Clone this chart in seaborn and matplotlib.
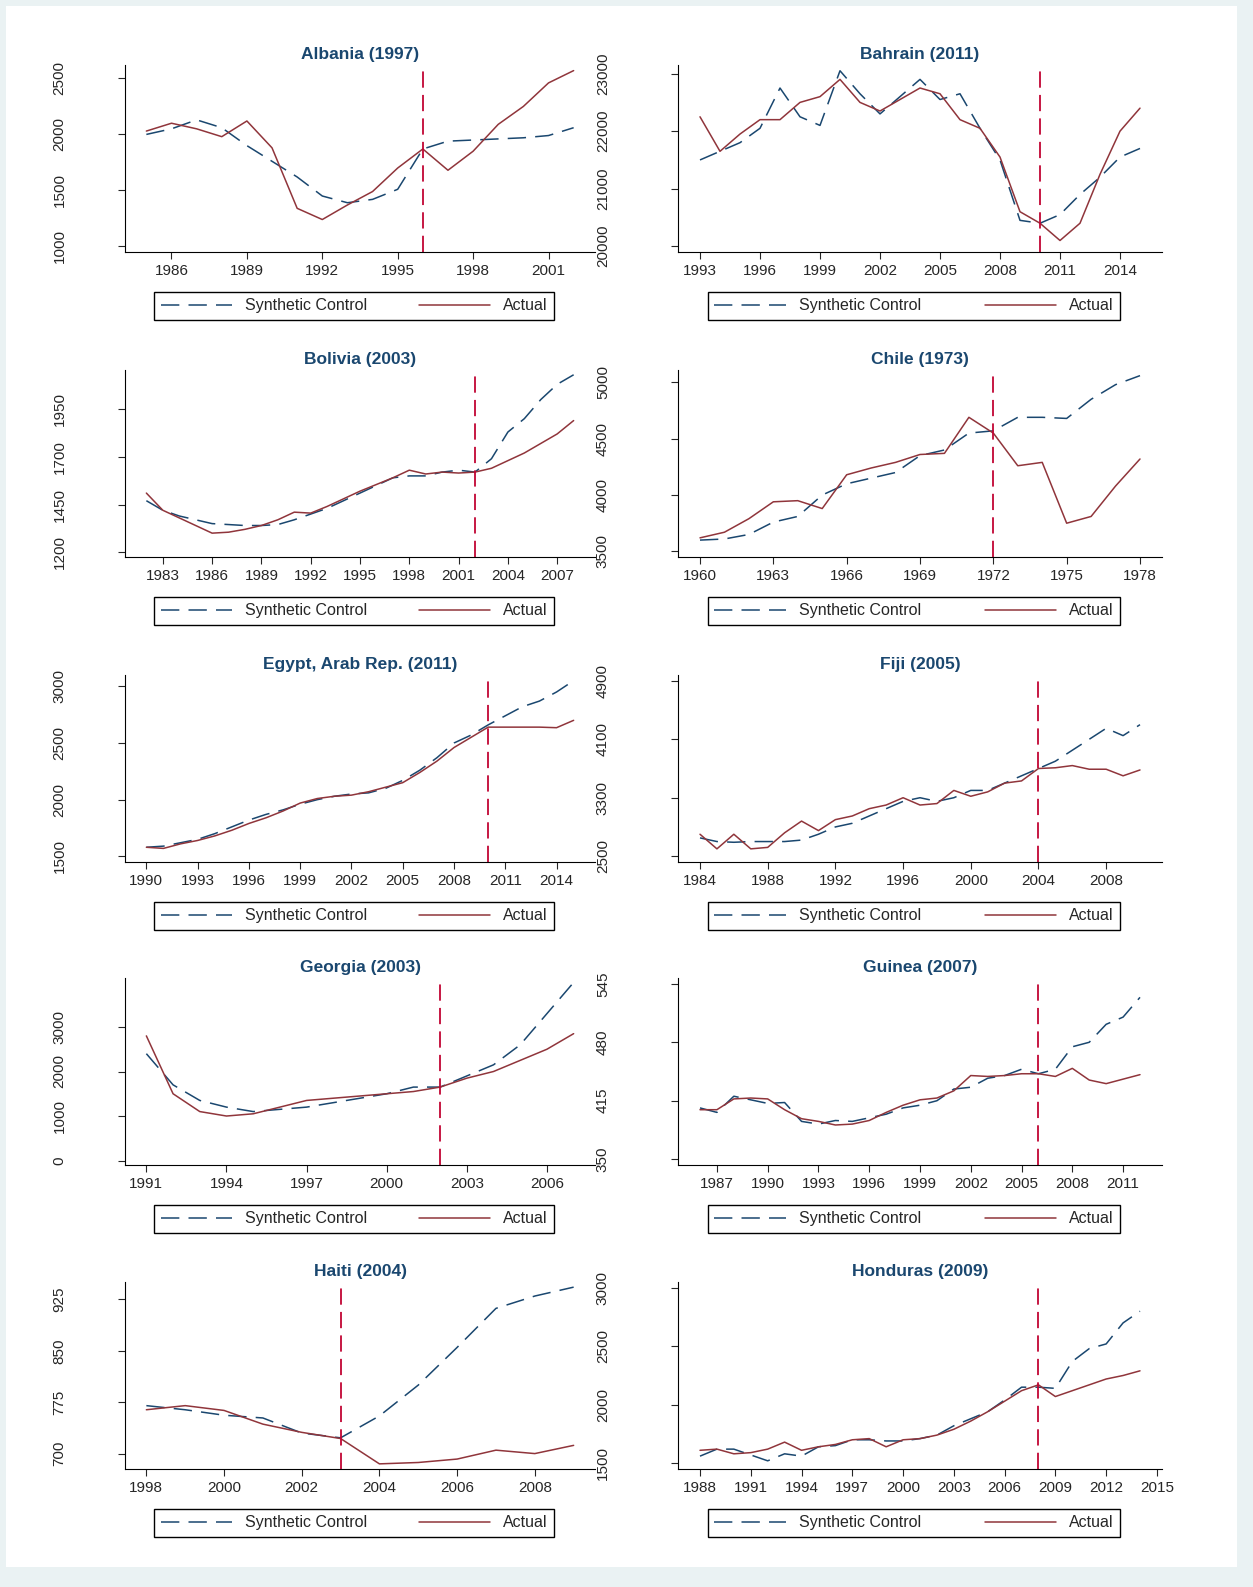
import matplotlib
matplotlib.use("Agg")
import matplotlib.pyplot as plt
import pandas as pd
import seaborn as sns

# ---- data ----
albania_years = list(range(1985, 2003))
albania_synth = [2000, 2050, 2130, 2060, 1900, 1760, 1620, 1450, 1390, 1420, 1510, 1870, 1940, 1950, 1960, 1970, 1990, 2060]
albania_actual = [2030, 2100, 2050, 1980, 2120, 1880, 1340, 1240, 1370, 1490, 1700, 1870, 1680, 1850, 2090, 2250, 2460, 2570]

bahrain_years = list(range(1993, 2016))
bahrain_synth = [21500, 21650, 21800, 22050, 22750, 22250, 22100, 23050, 22650, 22300, 22600, 22900, 22550, 22650,
                 22050, 21500, 20450, 20400, 20550, 20900, 21200, 21550, 21700]
bahrain_actual = [22250, 21650, 21950, 22200, 22200, 22500, 22600, 22900, 22500, 22350, 22550, 22750, 22650, 22200,
                  22050, 21550, 20600, 20400, 20100, 20400, 21250, 22000, 22400]

bolivia_years = list(range(1982, 2009))
bolivia_synth = [1470, 1420, 1390, 1370, 1350, 1345, 1340, 1340, 1345, 1370, 1400, 1430, 1470, 1510, 1550, 1590,
                 1600, 1600, 1620, 1630, 1620, 1690, 1830, 1900, 2000, 2080, 2130]
bolivia_actual = [1510, 1420, 1380, 1340, 1300, 1305, 1320, 1340, 1370, 1410, 1405, 1440, 1480, 1520, 1555, 1590,
                  1630, 1610, 1620, 1615, 1620, 1640, 1680, 1720, 1770, 1820, 1890]

chile_years = list(range(1960, 1979))
chile_synth = [3600, 3610, 3650, 3760, 3810, 4000, 4100, 4150, 4200, 4350, 4400, 4550, 4570, 4690, 4690, 4680, 4850, 4980, 5060]
chile_actual = [3620, 3670, 3790, 3940, 3950, 3880, 4180, 4240, 4290, 4360, 4370, 4690, 4550, 4260, 4290, 3750, 3810, 4080, 4320]

egypt_years = list(range(1990, 2016))
egypt_synth = [1580, 1590, 1620, 1650, 1700, 1760, 1820, 1870, 1910, 1960, 2000, 2030, 2050, 2060, 2100, 2170, 2260,
               2370, 2500, 2570, 2660, 2740, 2820, 2870, 2950, 3050]
egypt_actual = [1580, 1570, 1610, 1640, 1680, 1730, 1790, 1840, 1900, 1970, 2010, 2030, 2040, 2070, 2110, 2150, 2240,
                2340, 2460, 2550, 2640, 2640, 2640, 2640, 2635, 2700]

fiji_years = list(range(1984, 2011))
fiji_synth = [2750, 2700, 2690, 2700, 2700, 2700, 2720, 2800, 2900, 2950, 3050, 3150, 3250, 3300, 3250, 3300, 3400,
              3400, 3500, 3600, 3700, 3800, 3950, 4100, 4250, 4150, 4300]
fiji_actual = [2800, 2600, 2800, 2600, 2620, 2820, 2980, 2850, 3000, 3050, 3150, 3200, 3300, 3200, 3220, 3400, 3320,
               3380, 3500, 3530, 3700, 3710, 3740, 3690, 3690, 3600, 3680]

georgia_years = list(range(1991, 2008))
georgia_synth = [2400, 1700, 1350, 1200, 1100, 1150, 1200, 1300, 1400, 1500, 1650, 1650, 1900, 2150, 2600, 3300, 4000]
georgia_actual = [2800, 1500, 1100, 1000, 1050, 1200, 1350, 1400, 1450, 1500, 1550, 1650, 1850, 2000, 2250, 2500, 2850]

guinea_years = list(range(1986, 2013))
guinea_synth = [407, 402, 420, 416, 412, 413, 392, 389, 393, 392, 396, 400, 407, 410, 415, 428, 430, 440, 443, 450,
                445, 450, 475, 480, 500, 508, 530]
guinea_actual = [405, 405, 417, 418, 417, 405, 395, 392, 388, 389, 393, 402, 410, 416, 418, 426, 443, 442, 443, 445,
                 445, 442, 451, 438, 434, 439, 444]

haiti_years = list(range(1998, 2010))
haiti_synth = [770, 764, 756, 752, 730, 723, 755, 800, 855, 912, 930, 943]
haiti_actual = [764, 770, 763, 743, 731, 722, 685, 687, 692, 705, 700, 712]

honduras_years = list(range(1988, 2015))
honduras_synth = [1560, 1620, 1620, 1570, 1520, 1580, 1560, 1640, 1650, 1700, 1700, 1690, 1690, 1710, 1740, 1820,
                  1880, 1940, 2040, 2150, 2150, 2140, 2370, 2480, 2520, 2700, 2800]
honduras_actual = [1610, 1620, 1580, 1590, 1620, 1680, 1610, 1640, 1660, 1700, 1710, 1640, 1700, 1710, 1740, 1790,
                   1860, 1940, 2030, 2120, 2170, 2070, 2120, 2170, 2220, 2250, 2290]

panels = [
    ("Albania (1997)", albania_years, albania_synth, albania_actual, 1996, range(1986, 2002, 3), [1000, 1500, 2000, 2500]),
    ("Bahrain (2011)", bahrain_years, bahrain_synth, bahrain_actual, 2010, range(1993, 2015, 3), [20000, 21000, 22000, 23000]),
    ("Bolivia (2003)", bolivia_years, bolivia_synth, bolivia_actual, 2002, range(1983, 2008, 3), [1200, 1450, 1700, 1950]),
    ("Chile (1973)", chile_years, chile_synth, chile_actual, 1972, range(1960, 1979, 3), [3500, 4000, 4500, 5000]),
    ("Egypt, Arab Rep. (2011)", egypt_years, egypt_synth, egypt_actual, 2010, range(1990, 2015, 3), [1500, 2000, 2500, 3000]),
    ("Fiji (2005)", fiji_years, fiji_synth, fiji_actual, 2004, range(1984, 2009, 4), [2500, 3300, 4100, 4900]),
    ("Georgia (2003)", georgia_years, georgia_synth, georgia_actual, 2002, range(1991, 2007, 3), [0, 1000, 2000, 3000]),
    ("Guinea (2007)", guinea_years, guinea_synth, guinea_actual, 2006, range(1987, 2012, 3), [350, 415, 480, 545]),
    ("Haiti (2004)", haiti_years, haiti_synth, haiti_actual, 2003, range(1998, 2009, 2), [700, 775, 850, 925]),
    ("Honduras (2009)", honduras_years, honduras_synth, honduras_actual, 2008, range(1988, 2016, 3), [1500, 2000, 2500, 3000]),
]

SYN_C = "#1a476f"
ACT_C = "#90353b"
VL_C = "#c10534"

sns.set_style("white")
plt.rcParams["font.family"] = ["Liberation Sans", "DejaVu Sans"]

fig = plt.figure(figsize=(12.53, 15.87), dpi=100, facecolor="#eaf2f3")
fig.patches.append(plt.Rectangle((6 / 1253, 20 / 1587), 1231 / 1253, 1561 / 1587,
                                 transform=fig.transFigure, facecolor="white", edgecolor="none", zorder=-10))

W, H = 1253, 1587
col_left = [125, 678]
col_width = [470, 484]
row_top = [65, 370, 675, 978, 1282]
ax_h = 187
y_pad = [37, 44]

for i, (title, yrs, syn, act, vline, xt, yt) in enumerate(panels):
    r, c = divmod(i, 2)
    left = col_left[c] / W
    bottom = 1 - (row_top[r] + ax_h) / H
    ax = fig.add_axes([left, bottom, col_width[c] / W, ax_h / H])
    ax.set_facecolor("white")
    df = pd.DataFrame({"year": yrs + yrs, "value": syn + act,
                       "series": ["Synthetic Control"] * len(yrs) + ["Actual"] * len(yrs)})
    sns.lineplot(data=df, x="year", y="value", hue="series", style="series",
                 palette={"Synthetic Control": SYN_C, "Actual": ACT_C},
                 dashes={"Synthetic Control": (12, 6), "Actual": ""},
                 linewidth=1.1, ax=ax)
    ax.axvline(vline, color=VL_C, linestyle=(0, (9, 4)), linewidth=1.3)
    ax.set_title(title, fontsize=12.5, fontweight="bold", color=SYN_C, pad=4)
    ax.set_xlabel("")
    ax.set_ylabel("")
    ax.set_xticks(list(xt))
    ax.set_yticks(yt)
    ax.tick_params(axis="y", labelrotation=90, labelsize=11, length=5, direction="out", left=True, pad=y_pad[c])
    ax.tick_params(axis="x", labelsize=11, length=5, direction="out", bottom=True)
    for lab in ax.get_yticklabels():
        lab.set_va("center")
    ax.spines["top"].set_visible(False)
    ax.spines["right"].set_visible(False)
    for s in ("left", "bottom"):
        ax.spines[s].set_color("black")
        ax.spines[s].set_linewidth(0.8)
    ax.set_ylim(min(yt[0], min(syn + act)) - (yt[1] - yt[0]) * 0.1, max(yt[-1], max(syn + act)) + (yt[1] - yt[0]) * 0.1)
    h, l = ax.get_legend_handles_labels()
    ax.legend(h, l, loc="upper center", bbox_to_anchor=(0.045, -0.32, 0.885, 0.15), mode="expand", ncol=2,
              frameon=True, fancybox=False, edgecolor="black", framealpha=1, fontsize=11.5, handlelength=4.5,
              columnspacing=4, borderpad=0.4)

fig.savefig("out.png", dpi=100, facecolor=fig.get_facecolor())
